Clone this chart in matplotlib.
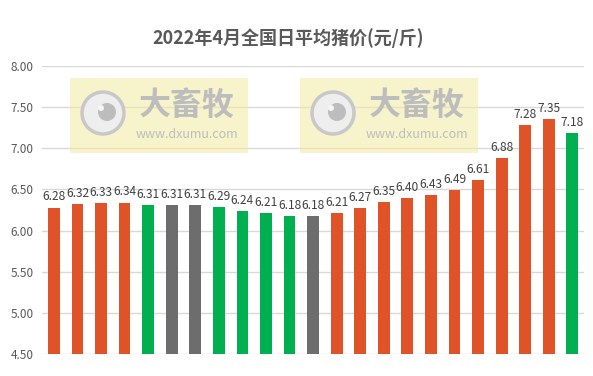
import matplotlib.pyplot as plt
from matplotlib.patches import Rectangle, Circle

plt.rcParams['font.family'] = ['Noto Sans CJK SC', 'DejaVu Sans']

# daily average pig price, April 2022
prices = [6.28, 6.32, 6.33, 6.34, 6.31, 6.31, 6.31, 6.29, 6.24, 6.21, 6.18, 6.18,
          6.21, 6.27, 6.35, 6.40, 6.43, 6.49, 6.61, 6.88, 7.28, 7.35, 7.18]
trend = ['up', 'up', 'up', 'up', 'down', 'flat', 'flat', 'down', 'down', 'down', 'down', 'flat',
         'up', 'up', 'up', 'up', 'up', 'up', 'up', 'up', 'up', 'up', 'down']
yticks = [4.5, 5.0, 5.5, 6.0, 6.5, 7.0, 7.5, 8.0]

colors = {'up': '#E05328', 'down': '#00B050', 'flat': '#6D6D6D'}

fig = plt.figure(figsize=(5.93, 3.76), dpi=100)
ax = fig.add_axes([0.071, 0.0585, 0.914, 0.766])

x = list(range(len(prices)))
ax.bar(x, prices, width=0.5, color=[colors[t] for t in trend], zorder=3)
for xi, v in zip(x, prices):
    ax.text(xi, v + 0.05, f'{v:.2f}', ha='center', va='bottom', fontsize=8.6,
            color='#404040', zorder=4)

ax.set_xlim(-0.5, len(prices) - 0.5)
ax.set_ylim(4.5, 8.0)
ax.set_yticks(yticks)
ax.set_yticklabels([f'{t:.2f}' for t in yticks], fontsize=8.5, color='#595959')
ax.set_xticks([])
ax.grid(axis='y', color='#D9D9D9', linewidth=1, zorder=0)
ax.tick_params(axis='y', length=0, pad=6)
for s in ax.spines.values():
    s.set_visible(False)

fig.text(0.486, 0.898, '2022年4月全国日平均猪价(元/斤)', ha='center', va='center',
         fontsize=13, fontweight='bold', color='#595959')

# watermarks
for x0 in [70, 300]:
    fx, fy = x0 / 593, 1 - 153 / 376
    fig.patches.append(Rectangle((fx, fy), 178 / 593, 75 / 376, transform=fig.transFigure,
                                 facecolor='#F3EBA8', alpha=0.6, edgecolor='none', zorder=5))
    fig.patches.append(Circle((x0 + 33, 376 - 113), 21, transform=None,
                              facecolor='#EEEEEE', edgecolor='#C8C8C8', linewidth=2.5, zorder=6))
    fig.patches.append(Circle((x0 + 37, 376 - 112), 9, transform=None,
                              facecolor='#BDBDBD', edgecolor='none', zorder=7))
    fig.patches.append(Circle((x0 + 31, 376 - 108), 3, transform=None,
                              facecolor='#F5F5F5', edgecolor='none', zorder=8))
    fig.text((x0 + 117) / 593, 1 - 106 / 376, '大畜牧', ha='center', va='center',
             fontsize=23, fontweight='bold', color='#BDBDBD', zorder=9)
    fig.text((x0 + 117) / 593, 1 - 134 / 376, 'www.dxumu.com', ha='center', va='center',
             fontsize=9, color='#BDBDBD', zorder=9)

fig.savefig('out.png', dpi=100)
